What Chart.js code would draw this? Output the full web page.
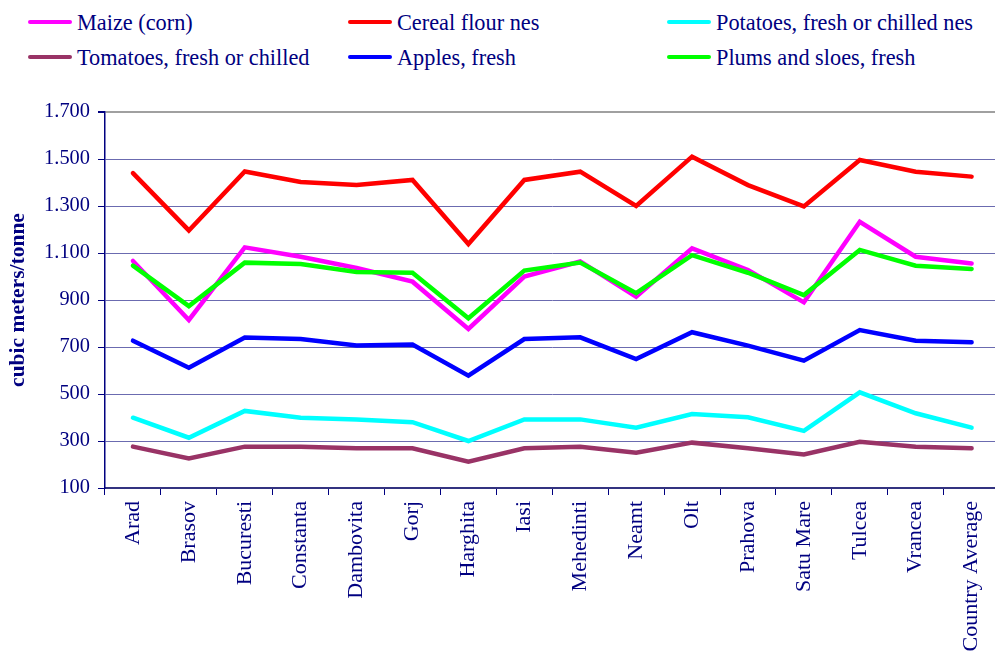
<!DOCTYPE html>
<html>
<head>
<meta charset="utf-8">
<script src="https://cdn.jsdelivr.net/npm/chart.js@4"></script>
<style>
  html, body { margin: 0; padding: 0; background: #fff; overflow: hidden; }
  #wrap { position: absolute; left: 0; top: 0; width: 1004px; height: 662px; }
  .leg { position: absolute; font-family: "Liberation Serif", "Times New Roman", serif; font-size: 22.3px; line-height: 24px; color: #000080; white-space: nowrap; }
  .swatch { position: absolute; width: 44px; height: 4px; border-radius: 2px; }
</style>
</head>
<body>
<div id="legend"></div>
<div id="wrap"><canvas id="chart"></canvas></div>
<script>
// regions (x axis)
const categories = ['Arad', 'Brasov', 'Bucuresti', 'Constanta', 'Dambovita', 'Gorj', 'Harghita', 'Iasi',
    'Mehedinti', 'Neamt', 'Olt', 'Prahova', 'Satu Mare', 'Tulcea', 'Vrancea', 'Country Average'];

// cubic meters / tonne
const maize = [1066, 815, 1124, 1084, 1036, 978, 777, 1000, 1064, 914, 1120, 1028, 890, 1233, 1084, 1055];
const cerealFlour = [1440, 1196, 1447, 1402, 1389, 1411, 1138, 1411, 1446, 1300, 1510, 1389, 1298, 1496, 1446, 1425];
const potatoes = [399, 314, 428, 399, 392, 380, 300, 392, 392, 357, 415, 401, 343, 507, 418, 357];
const tomatoes = [276, 226, 276, 276, 269, 269, 212, 269, 276, 250, 293, 269, 243, 297, 276, 269];
const apples = [727, 612, 740, 734, 706, 711, 578, 734, 741, 649, 763, 706, 642, 772, 727, 720];
const plums = [1046, 874, 1059, 1053, 1019, 1016, 822, 1025, 1059, 929, 1091, 1016, 921, 1113, 1046, 1032];

const seriesNames = ['Maize (corn)', 'Cereal flour nes', 'Potatoes, fresh or chilled nes',
    'Tomatoes, fresh or chilled', 'Apples, fresh', 'Plums and sloes, fresh'];
const seriesData = [maize, cerealFlour, potatoes, tomatoes, apples, plums];
const seriesColors = ['#FF00FF', '#FF0000', '#00FFFF', '#993366', '#0000FF', '#00FF00'];

const yMin = 100, yMax = 1700, yStep = 200;
const navy = '#000080';

function fmtThousands(v) {
    if (v < 1000) return String(v);
    return Math.floor(v / 1000) + '.' + String(v % 1000).padStart(3, '0');
}

// legend in 3 columns, 2 rows
function buildLegend() {
    const box = document.getElementById('legend');
    const colX = [28, 348, 667];
    const rowY = [22, 57];
    seriesNames.forEach((name, i) => {
        const col = i % 3, row = Math.floor(i / 3);
        const sw = document.createElement('div');
        sw.className = 'swatch';
        sw.style.left = colX[col] + 'px';
        sw.style.top = (rowY[row] - 2) + 'px';
        sw.style.background = seriesColors[i];
        box.appendChild(sw);
        const t = document.createElement('div');
        t.className = 'leg';
        t.style.left = (colX[col] + 49) + 'px';
        t.style.top = (rowY[row] - 11) + 'px';
        t.textContent = name;
        box.appendChild(t);
    });
}

function initChart() {
    const ctx = document.getElementById('chart');
    const datasets = seriesData.map((d, i) => ({
        label: seriesNames[i],
        data: d,
        borderColor: seriesColors[i],
        backgroundColor: seriesColors[i],
        borderWidth: 4.5,
        pointRadius: 0,
        tension: 0,
        fill: false,
        borderCapStyle: 'round',
        borderJoinStyle: 'miter',
        order: i === 5 ? 0 : i + 1
    }));

    new Chart(ctx, {
        type: 'line',
        data: { labels: categories, datasets: datasets },
        options: {
            responsive: true,
            maintainAspectRatio: false,
            animation: false,
            layout: { padding: { top: 112, left: 0, right: 0, bottom: 0 } },
            plugins: {
                legend: { display: false },
                tooltip: { enabled: false }
            },
            scales: {
                x: {
                    offset: true,
                    grid: {
                        offset: true,
                        drawOnChartArea: false,
                        drawTicks: true,
                        tickLength: 7,
                        tickColor: navy,
                        tickWidth: 1
                    },
                    border: { color: '#333380', width: 2 },
                    ticks: {
                        color: navy,
                        minRotation: 90,
                        maxRotation: 90,
                        autoSkip: false,
                        padding: 6,
                        font: { family: '"Liberation Serif", serif', size: 22 }
                    },
                    afterFit: function(scale) { scale.height = 174; }
                },
                y: {
                    min: yMin,
                    max: yMax,
                    grid: {
                        color: c => (c.tick && c.tick.value === yMax) ? '#a0a0a0' : '#6b6bb0',
                        lineWidth: c => (c.tick && c.tick.value === yMax) ? 2 : 1,
                        tickLength: 7,
                        tickColor: navy
                    },
                    border: { color: navy, width: 1.5 },
                    ticks: {
                        stepSize: yStep,
                        color: navy,
                        padding: 8,
                        font: { family: '"Liberation Serif", serif', size: 20.4 },
                        callback: v => fmtThousands(v)
                    },
                    title: {
                        display: true,
                        text: 'cubic meters/tonne',
                        color: navy,
                        padding: { top: 6, bottom: 0 },
                        font: { family: '"Liberation Serif", serif', size: 21.5, weight: 'bold' }
                    },
                    afterFit: function(scale) { scale.width = 105; }
                }
            }
        }
    });
}

buildLegend();
initChart();
</script>
</body>
</html>
